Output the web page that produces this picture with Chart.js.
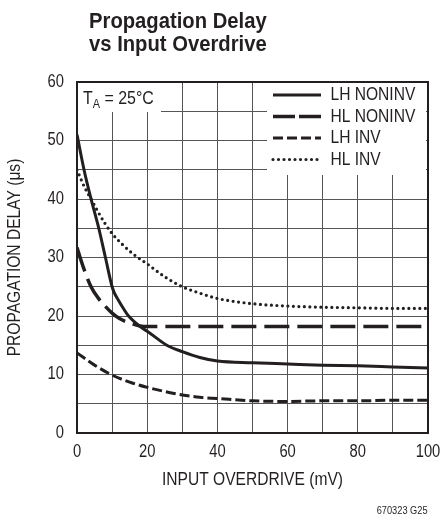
<!DOCTYPE html>
<html><head><meta charset="utf-8">
<script src="https://cdn.jsdelivr.net/npm/chart.js@4.4.0/dist/chart.umd.min.js"></script>
<style>
html,body{margin:0;padding:0;background:#fff;}
#wrap{position:relative;width:442px;height:519px;overflow:hidden;background:#fff;}
canvas{position:absolute;left:0;top:0;}
.t{position:absolute;font-family:'Liberation Sans',Arial,sans-serif;color:#231f20;white-space:nowrap;}
#title{left:89px;top:9px;font-size:22px;font-weight:bold;line-height:23.4px;transform:scaleX(0.92);transform-origin:0 0;}
#ta{left:83px;top:84px;font-size:19px;line-height:27px;transform:scaleX(0.84);transform-origin:0 0;}
#ta sub{font-size:13px;vertical-align:-4px;line-height:0;}
#note{right:14px;top:504px;font-size:11px;line-height:13px;transform:scaleX(0.84);transform-origin:100% 0;}
</style></head>
<body><div id="wrap"><canvas id="c" width="442" height="519"></canvas>
<div class="t" id="title">Propagation Delay<br>vs Input Overdrive</div>
<div class="t" id="ta">T<sub>A</sub> = 25°C</div>
<div class="t" id="note">670323 G25</div>
</div>
<script>
const seriesNames = ['LH NONINV', 'HL NONINV', 'LH INV', 'HL INV'];
const xLHN = [0, 2, 4, 6.2, 8.1, 10, 10.6, 11.8, 13, 14.7, 18.2, 20, 25.6, 30, 35, 40, 50, 60, 70, 80, 90, 100];
const yLHN = [51, 45, 40, 35, 30, 25, 24, 22.7, 21.5, 20, 18.1, 17.4, 15, 13.9, 12.9, 12.3, 12.0, 11.8, 11.6, 11.5, 11.3, 11.1];
const xHLN = [0, 1, 2, 4, 6, 8, 10, 12, 14, 16, 18, 20, 40, 60, 80, 100];
const yHLN = [31.7, 29.8, 28.0, 25.0, 23.1, 21.7, 20.5, 19.6, 19.0, 18.6, 18.3, 18.2, 18.2, 18.2, 18.2, 18.2];
const xLHI = [0, 5, 10, 15, 20, 25, 30, 35, 40, 50, 60, 70, 80, 90, 100];
const yLHI = [13.7, 11.6, 9.9, 8.7, 7.8, 7.1, 6.5, 6.1, 5.9, 5.5, 5.4, 5.5, 5.5, 5.6, 5.6];
const xHLI = [0, 2, 4, 6, 8, 10, 13, 16, 20, 25, 30, 35, 40, 50, 60, 70, 80, 90, 100];
const yHLI = [45, 42.2, 40, 37.8, 35.8, 34.1, 32.2, 30.6, 28.9, 26.7, 25.0, 23.9, 23.0, 22.1, 21.7, 21.5, 21.4, 21.3, 21.3];
const xTickLabels = [0, 20, 40, 60, 80, 100];
const yTickLabels = [0, 10, 20, 30, 40, 50, 60];

const FONT = "'Liberation Sans',Arial,sans-serif";
const INK = '#231f20';
const GRID = '#555555';

// condensed-text emulation (Helvetica Condensed look): scale canvas text horizontally
const SX = 0.82;
(function () {
  const P = CanvasRenderingContext2D.prototype;
  const of = P.fillText, om = P.measureText;
  P.fillText = function (t, x, y, mw) {
    this.save();
    this.translate(x, y);
    this.scale(SX, 1);
    if (mw === undefined || mw === null) of.call(this, t, 0, 0); else of.call(this, t, 0, 0, mw / SX);
    this.restore();
  };
  P.measureText = function (t) {
    const m = om.call(this, t);
    return {
      width: m.width * SX,
      actualBoundingBoxAscent: m.actualBoundingBoxAscent,
      actualBoundingBoxDescent: m.actualBoundingBoxDescent,
      actualBoundingBoxLeft: m.actualBoundingBoxLeft * SX,
      actualBoundingBoxRight: m.actualBoundingBoxRight * SX,
      fontBoundingBoxAscent: m.fontBoundingBoxAscent,
      fontBoundingBoxDescent: m.fontBoundingBoxDescent
    };
  };
})();

function pts(xs, ys) { return xs.map((x, i) => ({x: x, y: ys[i]})); }

const overlay = {
  id: 'overlay',
  afterLayout(chart) {
    const lg = chart.legend;
    if (!lg) return;
    lg.left = 270.5; lg.top = 83;
    lg.right = lg.left + lg.width; lg.bottom = lg.top + lg.height;
  },
  afterDraw(chart) {
    const ctx = chart.ctx, a = chart.chartArea;
    ctx.save();
    ctx.fillStyle = '#fff';
    ctx.fillRect(267, a.top + 1, a.right - 2 - 267, 175 - a.top - 1);
    ctx.fillRect(a.left + 1, a.top + 1, 161 - a.left - 1, 112 - a.top - 1);
    ctx.restore();
    chart.legend.draw();
    ctx.save();
    ctx.strokeStyle = INK; ctx.lineWidth = 2;
    ctx.strokeRect(a.left, a.top, a.right - a.left, a.bottom - a.top);
    ctx.restore();
  }
};

const common = {showLine: true, pointRadius: 0, borderColor: INK, backgroundColor: INK, cubicInterpolationMode: 'monotone', fill: false};
const legendDash = [[], [22, 4], [10, 4], [0, 5.5]];

new Chart(document.getElementById('c'), {
  type: 'scatter',
  data: {
    datasets: [
      Object.assign({label: seriesNames[0], data: pts(xLHN, yLHN), borderWidth: 3, borderDash: [], borderCapStyle: 'butt'}, common),
      Object.assign({label: seriesNames[1], data: pts(xHLN, yHLN), borderWidth: 3.5, borderDash: [25, 8], borderCapStyle: 'butt'}, common),
      Object.assign({label: seriesNames[2], data: pts(xLHI, yLHI), borderWidth: 3, borderDash: [10, 4], borderCapStyle: 'butt'}, common),
      Object.assign({label: seriesNames[3], data: pts(xHLI, yHLI), borderWidth: 3.2, borderDash: [0, 5.5], borderCapStyle: 'round'}, common)
    ]
  },
  options: {
    responsive: false, animation: false, devicePixelRatio: 1,
    layout: {padding: {left: 0, right: 14, top: 82, bottom: 0}},
    plugins: {
      legend: {
        position: 'chartArea', align: 'start',
        labels: {
          usePointStyle: true, pointStyle: 'line', pointStyleWidth: 48, padding: 2.5, color: INK,
          font: {family: FONT, size: 19},
          generateLabels: (chart) => {
            const items = Chart.defaults.plugins.legend.labels.generateLabels(chart);
            items.forEach((it, i) => {
              const ds = chart.data.datasets[i];
              it.lineDash = legendDash[i];
              it.lineCap = ds.borderCapStyle;
              it.lineWidth = ds.borderWidth;
              it.strokeStyle = INK;
              it.pointStyle = 'line';
            });
            return items;
          }
        }
      },
      tooltip: {enabled: false},
      title: {display: false}
    },
    scales: {
      x: {
        type: 'linear', min: 0, max: 100,
        ticks: {stepSize: 10, autoSkip: false, maxRotation: 0, padding: 0, color: INK, font: {family: FONT, size: 18},
          callback: v => xTickLabels.includes(v) ? String(v) : ''},
        grid: {color: GRID, lineWidth: 1, drawTicks: true, tickLength: 8, tickColor: 'rgba(0,0,0,0)'},
        border: {display: true, color: INK, width: 2},
        title: {display: true, text: 'INPUT OVERDRIVE (mV)', color: INK, font: {family: FONT, size: 19}, padding: {top: 0, bottom: 28}},
        afterFit: s => { s.height = 86; }
      },
      y: {
        type: 'linear', min: 0, max: 60,
        ticks: {stepSize: 5, autoSkip: false, padding: 13, color: INK, font: {family: FONT, size: 18},
          callback: v => yTickLabels.includes(v) ? String(v) : ''},
        grid: {color: GRID, lineWidth: 1, drawTicks: false},
        border: {display: true, color: INK, width: 2},
        title: {display: true, text: 'PROPAGATION DELAY (μs)', color: INK, font: {family: FONT, size: 19}, padding: {top: 3, bottom: 0}},
        afterFit: s => { s.width = 77; }
      }
    }
  },
  plugins: [overlay]
});
</script>
</body></html>
